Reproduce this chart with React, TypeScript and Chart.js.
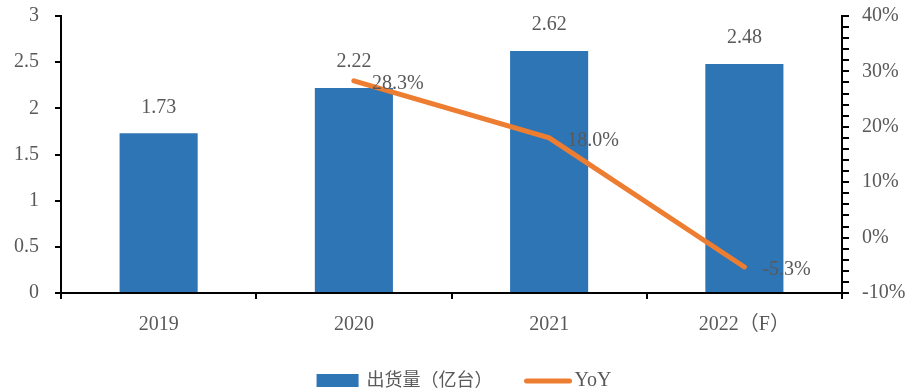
import React, { useEffect, useRef } from "react";
import { Chart, registerables } from "chart.js";

Chart.register(...registerables);

const categories = ["2019", "2020", "2021", "2022（F）"];
const shipments = [1.73, 2.22, 2.62, 2.48];
const yoy: (number | null)[] = [null, 28.3, 18.0, -5.3];
const leftTicks = { min: 0, max: 3, step: 0.5 };
const rightTicks = { min: -10, max: 40, step: 2, labelEvery: 10 };
const seriesNames = ["出货量（亿台）", "YoY"];

const BLUE = "#2E75B6";
const ORANGE = "#ED7D31";
const TEXT = "#595959";
const FONT = "'Liberation Serif', 'Noto Sans CJK SC', serif";

const labelPlugin = {
  id: "valueLabels",
  afterDatasetsDraw(chart: any) {
    const ctx = chart.ctx;
    ctx.save();
    ctx.fillStyle = TEXT;
    ctx.font = `20px ${FONT}`;
    const barMeta = chart.getDatasetMeta(0);
    barMeta.data.forEach((el: any, i: number) => {
      const v = chart.data.datasets[0].data[i];
      if (v == null) return;
      ctx.textAlign = "center";
      ctx.textBaseline = "middle";
      ctx.fillText(Number(v).toFixed(2), el.x, el.y - 26);
    });
    const lineMeta = chart.getDatasetMeta(1);
    lineMeta.data.forEach((el: any, i: number) => {
      const v = chart.data.datasets[1].data[i];
      if (v == null) return;
      ctx.textAlign = "left";
      ctx.textBaseline = "middle";
      ctx.fillText(Number(v).toFixed(1) + "%", el.x + 18, el.y + 3);
    });
    // legend
    const cy = 381;
    ctx.font = `18px ${FONT}`;
    ctx.textBaseline = "middle";
    ctx.textAlign = "left";
    const t1 = ctx.measureText(chart.data.datasets[0].label).width;
    ctx.font = `20px ${FONT}`;
    const t2 = ctx.measureText(chart.data.datasets[1].label).width;
    const total = 42 + 8 + t1 + 32 + 47 + 3 + t2;
    let x = 464 - total / 2;
    ctx.fillStyle = chart.data.datasets[0].backgroundColor;
    ctx.fillRect(x, cy - 7, 42, 13);
    x += 42 + 8;
    ctx.fillStyle = TEXT;
    ctx.font = `18px ${FONT}`;
    ctx.fillText(chart.data.datasets[0].label, x, cy);
    x += t1 + 32;
    ctx.strokeStyle = chart.data.datasets[1].borderColor;
    ctx.lineWidth = 5;
    ctx.lineCap = "round";
    ctx.beginPath();
    ctx.moveTo(x + 2, cy);
    ctx.lineTo(x + 45, cy);
    ctx.stroke();
    x += 47 + 3;
    ctx.font = `20px ${FONT}`;
    ctx.fillText(chart.data.datasets[1].label, x, cy);
    ctx.restore();
  },
};

export default function App() {
  const ref = useRef<HTMLCanvasElement | null>(null);
  useEffect(() => {
    document.body.style.margin = "0";
    const chart = new Chart(ref.current as HTMLCanvasElement, {
      type: "bar",
      data: {
        labels: categories,
        datasets: [
          {
            type: "bar",
            label: seriesNames[0],
            data: shipments,
            backgroundColor: BLUE,
            yAxisID: "y",
            barPercentage: 0.4,
            categoryPercentage: 1,
            order: 2,
          } as any,
          {
            type: "line",
            label: seriesNames[1],
            data: yoy,
            borderColor: ORANGE,
            backgroundColor: ORANGE,
            borderWidth: 5,
            borderCapStyle: "round",
            pointRadius: 0,
            yAxisID: "y1",
            order: 1,
            spanGaps: false,
          } as any,
        ],
      },
      options: {
        animation: false,
        responsive: false,
        maintainAspectRatio: false,
        layout: { padding: { top: 16, left: 0, right: 0, bottom: 0 } },
        plugins: { legend: { display: false }, tooltip: { enabled: false } },
        scales: {
          x: {
            offset: true,
            grid: { offset: true, drawOnChartArea: false, color: "#000", tickLength: 6, lineWidth: 2 },
            border: { color: "#000", width: 2 },
            ticks: { color: TEXT, font: { size: 20, family: FONT }, padding: 14, maxRotation: 0 },
            afterFit(scale: any) {
              scale.height = 99;
              scale.paddingLeft = 0;
              scale.paddingRight = 0;
            },
          },
          y: {
            position: "left",
            min: leftTicks.min,
            max: leftTicks.max,
            grid: { drawOnChartArea: false, color: "#000", tickLength: 6, lineWidth: 2 },
            border: { color: "#000", width: 2 },
            ticks: {
              stepSize: leftTicks.step,
              color: TEXT,
              font: { size: 20, family: FONT },
              padding: 16,
              callback: (v: any) => String(Number(v)),
            },
            afterFit(scale: any) {
              scale.width = 61;
              scale.paddingTop = 0;
              scale.paddingBottom = 0;
            },
          },
          y1: {
            position: "right",
            min: rightTicks.min,
            max: rightTicks.max,
            grid: { drawOnChartArea: false, color: "#000", tickLength: 7, lineWidth: 2 },
            border: { color: "#000", width: 2 },
            ticks: {
              stepSize: rightTicks.step,
              autoSkip: false,
              color: TEXT,
              font: { size: 20, family: FONT },
              padding: 13,
              callback: (v: any) => (Number(v) % rightTicks.labelEvery === 0 ? `${v}%` : ""),
            },
            afterFit(scale: any) {
              scale.width = 75;
              scale.paddingTop = 0;
              scale.paddingBottom = 0;
            },
          },
        },
      } as any,
      plugins: [labelPlugin],
    });
    return () => chart.destroy();
  }, []);
  return <canvas ref={ref} width={917} height={392} style={{ display: "block" }} />;
}
